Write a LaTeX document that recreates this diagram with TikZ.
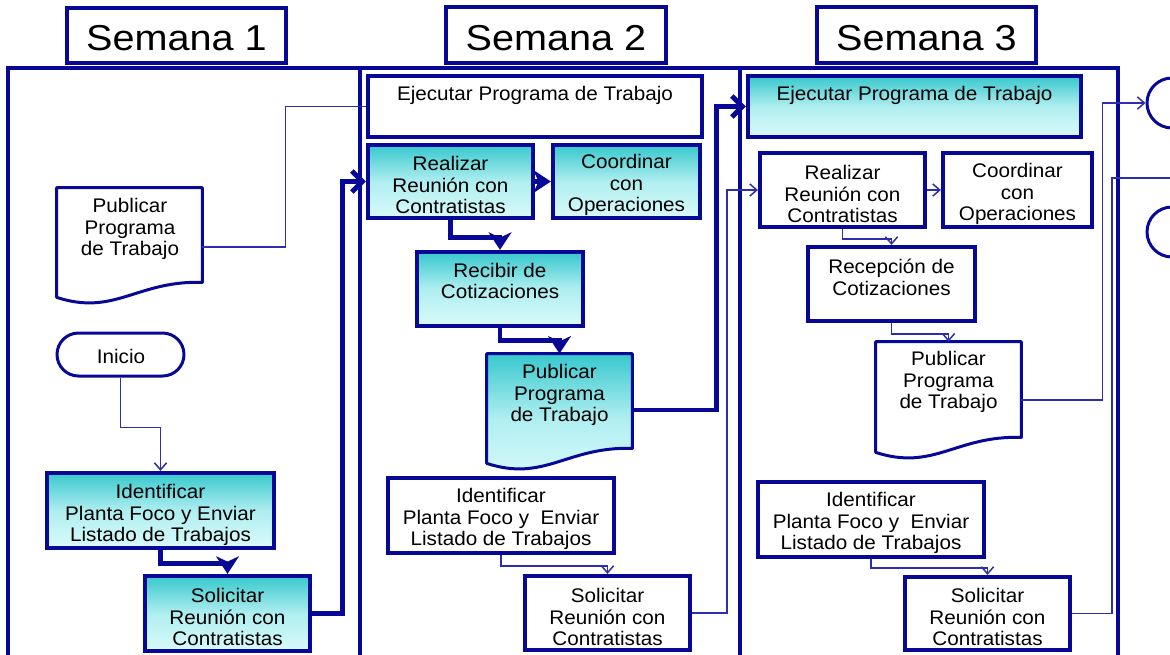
\documentclass[tikz,border=0pt]{standalone}
\usepackage{fontspec}
\setmainfont[FakeStretch=1.05]{Liberation Sans}
\newfontfamily\hdrfont[FakeStretch=1.1]{Liberation Sans}
\usetikzlibrary{arrows.meta,fit,calc}
\definecolor{navy}{RGB}{8,8,150}
\definecolor{linkblue}{RGB}{45,45,175}
\definecolor{aquaTop}{RGB}{55,200,205}
\definecolor{aquaMid}{RGB}{175,238,240}
\definecolor{aquaBot}{RGB}{218,250,250}

% outline of a document symbol (wavy bottom) built on a fitted node
\newcommand\docpath[1]{(#1.north west) -- (#1.north east) -- ($(#1.south east)+(0,-15)$)
  .. controls ($(#1.south east)!0.45!(#1.south west)+(0,-17)$) and ($(#1.south west)!0.4!(#1.south east)+(0,19)$) .. (#1.south west) -- cycle}

\begin{document}
\begin{tikzpicture}[x=0.02cm,y=-0.02cm,
  every node/.style={font=\fontsize{11.2}{12.2}\selectfont, text=black, align=center},
  frame/.style={draw=navy, line width=2.4pt, inner sep=0pt},
  plainbox/.style={frame, fill=white},
  aquabox/.style={frame, top color=aquaTop, bottom color=aquaBot, middle color=aquaMid},
  header/.style={draw=navy, line width=2.4pt, fill=white, inner sep=0pt},
  hdrtxt/.style={inner sep=0pt, font=\hdrfont\fontsize{20.5}{24}\selectfont},
  lane/.style={draw=navy, line width=2.2pt},
  docarea/.style={inner sep=0pt},
  docline/.style={draw=navy, line width=1.7pt, line join=round},
  aquafill/.style={top color=aquaTop, bottom color=aquaBot, middle color=aquaMid},
  terminal/.style={draw=navy, line width=1.7pt, fill=white, inner sep=0pt, rounded corners=0.43cm},
  endcircle/.style={circle, draw=navy, line width=1.7pt, minimum size=1cm, inner sep=0pt},
  txt/.style={inner sep=0pt},
  thinlink/.style={draw=linkblue, line width=0.85pt},
  thicklink/.style={draw=navy, line width=2.8pt},
  bighead/.style={-{Stealth[length=10pt,width=13pt,inset=3pt]}},
  openhead/.style={-{Straight Barb[length=6pt,width=12pt]}},
  smallhead/.style={-{Straight Barb[length=4pt,width=7pt]}}
]
\useasboundingbox (0,0) rectangle (1170,654);
\clip (0,0) rectangle (1170,654);

% week lanes
\draw[lane] (8,700) -- (8,68) -- (1118,68) -- (1118,700);
\draw[lane] (360,68) -- (360,700);
\draw[lane] (740,68) -- (740,700);

% week headers
\node[header, fit={(67,8) (286,63)}] (wk1) {};
\node[hdrtxt] (wk1t) at (176.5,38) {Semana 1};
\node[header, fit={(446,7) (666,63)}] (wk2) {};
\node[hdrtxt] (wk2t) at (556,38) {Semana 2};
\node[header, fit={(817,7) (1036,63)}] (wk3) {};
\node[hdrtxt] (wk3t) at (926.5,38) {Semana 3};

% ---- week 1
\node[docarea, fit={(57,188) (202,297)}] (pub1) {};
\path[docline, fill=white] \docpath{pub1};
\node[txt] (pub1t) at (130,229) {Publicar\\Programa\\de Trabajo};
\node[terminal, fit={(57,333) (184,376)}] (ini) {};
\node[txt] (init) at (121,356) {Inicio};
\node[aquabox, fit={(47,473) (274,548)}] (id1) {};
\node[txt] (id1t) at (160.5,515) {Identificar\\Planta Foco y Enviar\\Listado de Trabajos};
\node[aquabox, fit={(145,576) (310,651)}] (sol1) {};
\node[txt] (sol1t) at (227.5,617) {Solicitar\\Reunión con\\Contratistas};

% ---- week 2
\node[plainbox, fit={(368,76) (702,137)}] (ej2) {};
\node[txt] (ej2t) at (535,95) {Ejecutar Programa de Trabajo};
\node[aquabox, fit={(368,145) (533,218)}] (rea2) {};
\node[txt] (rea2t) at (450.5,185) {Realizar\\Reunión con\\Contratistas};
\node[aquabox, fit={(553,145) (700,218)}] (coo2) {};
\node[txt] (coo2t) at (626.5,185) {Coordinar\\con\\Operaciones};
\node[aquabox, fit={(417,252) (583,326)}] (rec2) {};
\node[txt] (rec2t) at (500,281) {Recibir de\\Cotizaciones};
\node[docarea, fit={(487,354) (632,463)}] (pub2) {};
\path[docline, aquafill] \docpath{pub2};
\node[txt] (pub2t) at (559.5,395) {Publicar\\Programa\\de Trabajo};
\node[plainbox, fit={(388,478) (614,553)}] (id2) {};
\node[txt] (id2t) at (501,519) {Identificar\\Planta Foco y\ \ Enviar\\Listado de Trabajos};
\node[plainbox, fit={(525,576) (690,650)}] (sol2) {};
\node[txt] (sol2t) at (607.5,617) {Solicitar\\Reunión con\\Contratistas};

% ---- week 3
\node[aquabox, fit={(748,76) (1081,137)}] (ej3) {};
\node[txt] (ej3t) at (914.5,95) {Ejecutar Programa de Trabajo};
\node[plainbox, fit={(760,153) (925,227)}] (rea3) {};
\node[txt] (rea3t) at (842.5,194) {Realizar\\Reunión con\\Contratistas};
\node[plainbox, fit={(943,153) (1092,227)}] (coo3) {};
\node[txt] (coo3t) at (1017.5,194) {Coordinar\\con\\Operaciones};
\node[plainbox, fit={(808,247) (975,321)}] (rec3) {};
\node[txt] (rec3t) at (891.5,277.5) {Recepción de\\Cotizaciones};
\node[docarea, fit={(876,342) (1021,452)}] (pub3) {};
\path[docline, fill=white] \docpath{pub3};
\node[txt] (pub3t) at (948.5,382) {Publicar\\Programa\\de Trabajo};
\node[plainbox, fit={(758,482) (984,557)}] (id3) {};
\node[txt] (id3t) at (871,523) {Identificar\\Planta Foco y\ \ Enviar\\Listado de Trabajos};
\node[plainbox, fit={(905,577) (1070,650)}] (sol3) {};
\node[txt] (sol3t) at (987.5,617) {Solicitar\\Reunión con\\Contratistas};

% following steps, cut at the right edge
\node[endcircle] (c1) at (1172,103) {};
\node[endcircle] (c2) at (1172,232) {};
\coordinate (out3) at (1185,178);

% ---- connectors
\draw[thinlink] ($(pub1.east)+(0,4.5)$) -- ++(83,0) |- (ej2.west);
\draw[thinlink, smallhead] (ini.south) -- ++(0,50) -| (id1.north);
\draw[thicklink, bighead] (id1.south) -- ++(0,13) -| (sol1.north);
\draw[thicklink, openhead] (sol1.east) -- ++(30,0) |- (rea2.west);

\draw[thicklink, bighead] (rea2.east) -- (coo2.west);
\draw[thicklink, bighead] (rea2.south) -- ++(0,17) -| (rec2.north);
\draw[thicklink, bighead] (rec2.south) -- ++(0,12) -| (pub2.north);
\draw[thicklink, openhead] ($(pub2.east)+(0,1.5)$) -- ++(84,0) |- (ej3.west);
\draw[thinlink, smallhead] (id2.south) -- ++(0,11) -| (sol2.north);
\draw[thinlink, smallhead] (sol2.east) -- ++(35,0) |- (rea3.west);

\draw[thinlink, smallhead] (rea3.east) -- (coo3.west);
\draw[thinlink, smallhead] (rea3.south) -- ++(0,10) -| (rec3.north);
\draw[thinlink, smallhead] (rec3.south) -- ++(0,11) -| (pub3.north);
\draw[thinlink, smallhead] ($(pub3.east)+(0,3)$) -- ++(81,0) |- (c1.west);
\draw[thinlink, smallhead] (id3.south) -- ++(0,9) -| (sol3.north);
\draw[thinlink] (sol3.east) -- ++(40,0) |- (out3);
\end{tikzpicture}
\end{document}
